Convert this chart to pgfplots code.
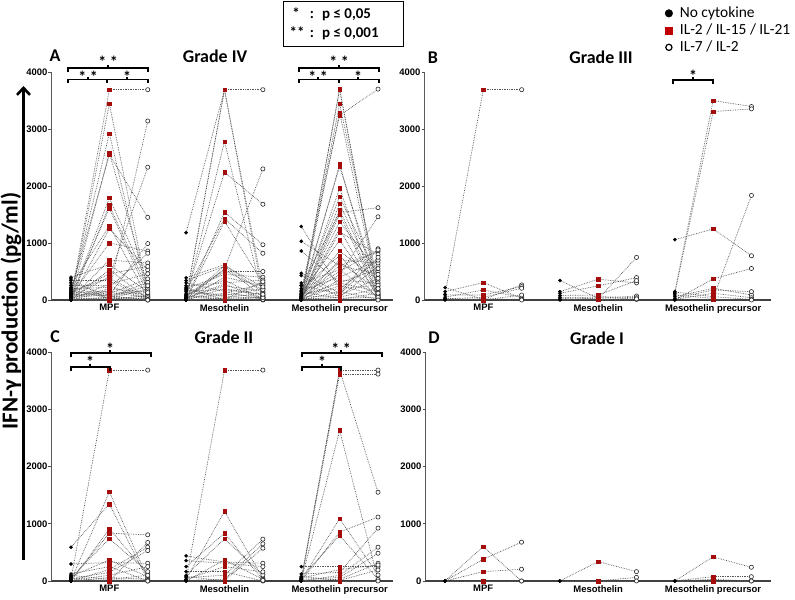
\documentclass[border=0pt]{standalone}
\usepackage{fontspec}
\setmainfont{Carlito}
\newfontfamily\arialf{Liberation Sans}
\usepackage{pgfplots}
\pgfplotsset{compat=1.18}
\usepackage{pgfplotstable}
\usetikzlibrary{arrows.meta}

\definecolor{sqred}{RGB}{165,12,12}
\definecolor{legred}{RGB}{192,0,0}
\definecolor{conn}{RGB}{85,85,85}

% one row per patient: g = antigen (0 MPF, 1 Mesothelin, 2 precursor)
\pgfplotstableread{
g nc il il7
0 50 3690 3690
0 20 3440 120
0 100 2920 60
0 10 2580 250
0 150 2550 1450
0 30 1790 300
0 0 1660 190
0 60 1610 100
0 250 1300 40
0 10 1250 530
0 80 1000 860
0 20 700 650
0 400 620 140
0 5 530 30
0 120 460 590
0 40 410 2330
0 340 340 10
0 15 280 460
0 200 220 820
0 0 170 3140
0 70 110 370
0 300 80 990
0 10 50 310
0 180 30 20
0 25 20 200
0 370 10 80
0 0 0 0
0 90 130 50
0 220 60 15
0 5 40 250
0 130 150 100
0 260 250 5
0 45 90 160
0 0 15 70
0 160 380 40
0 10 5 10
0 30 200 130
0 110 70 0
1 1180 3690 3690
1 20 3690 80
1 50 3690 200
1 30 2780 40
1 80 2240 1680
1 10 1540 970
1 150 1430 820
1 0 1380 300
1 390 620 130
1 340 590 50
1 20 550 2300
1 60 500 500
1 200 450 400
1 5 400 250
1 100 350 20
1 250 300 350
1 30 250 150
1 0 200 90
1 300 150 10
1 15 120 280
1 120 100 60
1 45 80 200
1 180 60 30
1 0 40 120
1 70 20 0
1 10 10 320
1 220 0 50
1 35 280 10
1 90 520 180
1 0 30 40
1 160 180 100
1 25 600 230
2 30 3700 80
2 10 3700 150
2 60 3440 300
2 20 3290 100
2 150 3240 3700
2 5 2380 50
2 80 2340 200
2 40 1960 10
2 100 1810 400
2 0 1690 250
2 20 1580 120
2 250 1535 1620
2 10 1505 60
2 1290 200 700
2 50 1370 500
2 1030 600 850
2 860 300 150
2 30 1250 30
2 470 120 900
2 430 50 600
2 5 1190 800
2 120 1050 90
2 60 860 350
2 200 780 20
2 0 706 650
2 90 665 180
2 15 605 450
2 300 530 40
2 40 450 1460
2 170 400 700
2 0 350 300
2 70 300 550
2 20 250 80
2 110 200 260
2 0 150 10
2 260 100 750
2 50 80 380
2 10 50 200
2 140 30 50
2 30 10 120
2 90 500 880
2 0 0 0
}\gradeIV

\pgfplotstableread{
g nc il il7
0 100 3690 3690
0 218 10 265
0 147 306 30
0 50 176 47
0 90 88 235
0 20 47 206
0 10 0 88
0 0 20 12
0 30 5 0
1 341 30 70
1 147 365 300
1 118 247 394
1 50 20 747
1 80 88 341
1 20 60 40
1 10 10 10
1 0 40 20
2 147 3500 3394
2 118 3306 3353
2 1059 1247 776
2 0 371 553
2 88 30 1835
2 60 206 88
2 30 176 147
2 10 118 40
2 140 59 10
2 0 10 0
}\gradeIII

\pgfplotstableread{
g nc il il7
0 30 3684 3684
0 10 1556 50
0 591 1345 20
0 0 912 123
0 20 836 807
0 60 737 164
0 298 322 310
0 80 368 76
0 123 251 0
0 0 200 591
0 40 150 532
0 10 100 251
0 0 60 30
0 50 0 673
0 5 20 10
0 100 30 100
0 0 5 0
1 20 3684 3684
1 439 330 310
1 357 310 251
1 30 1216 50
1 251 836 20
1 100 737 105
1 0 368 30
1 164 164 0
1 60 100 731
1 10 30 649
1 0 10 573
1 30 251 160
1 80 0 10
2 30 3684 3684
2 0 3614 3614
2 10 2632 20
2 40 3684 1550
2 20 1088 105
2 0 854 1117
2 60 795 30
2 251 251 251
2 123 150 924
2 0 100 591
2 30 60 485
2 10 30 310
2 80 10 193
2 0 0 0
2 50 200 280
}\gradeII

\pgfplotstableread{
g nc il il7
0 0 602 0
0 0 380 678
0 0 164 205
0 0 0 0
1 0 339 164
1 0 0 64
1 0 0 0
2 0 421 240
2 0 76 76
2 0 29 0
2 0 0 0
}\gradeI

\pgfplotsset{
  panel/.style={
    scale only axis, ymin=0, ymax=4000,
    axis lines*=left, clip=false,
    ytick={0,1000,2000,3000,4000},
    yticklabels={0,1000,2000,3000,4000},
    xtick={2,5,8},
    xticklabels={MPF,Mesothelin,Mesothelin precursor},
    xtick style={draw=none},
    ytick style={black!70, line width=0.6bp},
    tick align=outside, major tick length=2.5bp,
    tick label style={font=\arialf\bfseries\fontsize{9.5}{10}\selectfont},
    yticklabel style={inner sep=0.8bp},
    xticklabel style={inner sep=1.5bp},
    x axis line style={black!75, line width=1.3bp},
    y axis line style={black!65, line width=0.7bp},
  },
  link/.style={conn, densely dotted, line width=0.7bp, mark=none, -},
}

\newcommand\patients[1]{%
  \addplot[link, quiver={u=1, v=\thisrow{il}-\thisrow{nc}}]
    table[x expr=3*\thisrow{g}+1, y=nc]{#1};
  \addplot[link, quiver={u=1, v=\thisrow{il7}-\thisrow{il}}]
    table[x expr=3*\thisrow{g}+2, y=il]{#1};
  \addplot[only marks, mark=*, mark size=1.6bp, black]
    table[x expr=3*\thisrow{g}+1, y=nc]{#1};
  \addplot[only marks, mark=square*, mark size=1.7bp, sqred]
    table[x expr=3*\thisrow{g}+2, y=il]{#1};
  \addplot[only marks, mark=*, mark size=2.1bp,
    mark options={fill=white, draw=black!85, line width=0.6bp}]
    table[x expr=3*\thisrow{g}+3, y=il7]{#1};
}

\tikzset{
  brk/.style={line width=1.2bp, black},
  star/.style={font=\bfseries\fontsize{16}{16}\selectfont, anchor=base, inner sep=0pt},
  ttl/.style={font=\bfseries\fontsize{18}{20}\selectfont, inner sep=0pt},
}

\begin{document}
\begin{tikzpicture}
\useasboundingbox (0bp,0bp) rectangle (795bp,-600bp);

% A
\begin{axis}[panel, at={(51bp,-300bp)}, anchor=south west,
  width=342bp, height=228bp, xmin=0.48, xmax=9.39]
  \patients{\gradeIV}
\end{axis}

% B
\begin{axis}[panel, at={(424bp,-300bp)}, anchor=south west,
  width=346.6bp, height=228bp, xmin=0.45, xmax=9.5,
  legend style={draw=none, fill=none, at={(axis description cs:0.693,1.29)},
    anchor=north west, font=\fontsize{15.5}{17}\selectfont,
    inner sep=0pt, row sep=2.5bp,
    nodes={inner sep=0pt, text height=11bp, text depth=3.5bp}},
  legend cell align=left,
  legend image code/.code={%
    \path[draw=none, fill=none] (-0.5bp,0bp) -- (15bp,0bp);
    \draw[#1] plot coordinates {(4bp,0bp)};}]
  \addlegendimage{only marks, mark=*, mark size=3.8bp, black}
  \addlegendimage{only marks, mark=square*, mark size=3.6bp, legred}
  \addlegendimage{only marks, mark=*, mark size=3.1bp, mark options={fill=white, draw=black, line width=1.2bp}}
  \patients{\gradeIII}
  \legend{No cytokine, IL-2 / IL-15 / IL-21, IL-7 / IL-2}
\end{axis}

% C
\begin{axis}[panel, at={(51bp,-581bp)}, anchor=south west,
  width=342bp, height=229bp, xmin=0.48, xmax=9.39]
  \patients{\gradeII}
\end{axis}

% D
\begin{axis}[panel, at={(425bp,-581bp)}, anchor=south west,
  width=345.5bp, height=229bp, xmin=0.48, xmax=9.5]
  \patients{\gradeI}
\end{axis}

% titles
\node[ttl] at (55bp,-56bp) {A};
\node[ttl] at (215bp,-56bp) {Grade IV};
\node[ttl] at (433bp,-57.5bp) {B};
\node[ttl] at (601bp,-57.5bp) {Grade III};
\node[ttl] at (55bp,-337bp) {C};
\node[ttl] at (224bp,-337bp) {Grade II};
\node[ttl] at (434bp,-338bp) {D};
\node[ttl] at (597bp,-338bp) {Grade I};

% y label and arrow
\node[rotate=90, anchor=base, inner sep=0pt, font=\bfseries\fontsize{23}{25}\selectfont]
  at (17.5bp,-311bp) {IFN-γ production (pg/ml)};
\draw[line width=2.6bp, -{Straight Barb[length=7bp, width=13bp]}]
  (23.5bp,-560bp) -- (23.5bp,-86bp);

% p-value key
\draw[line width=1bp] (283bp,-1bp) rectangle (403bp,-46bp);
\begin{scope}[every node/.style={font=\bfseries\fontsize{15}{15}\selectfont, inner sep=0pt}]
  \node[anchor=base] at (296bp,-18.5bp) {*};
  \node[anchor=base] at (312bp,-18.5bp) {:};
  \node[anchor=base west] at (322bp,-18.5bp) {p ≤ 0,05};
  \node[anchor=base] at (297bp,-37bp) {**};
  \node[anchor=base] at (312bp,-37bp) {:};
  \node[anchor=base west] at (322bp,-37bp) {p ≤ 0,001};
\end{scope}

% significance brackets, A
\draw[brk] (68bp,-72bp) -- (68bp,-68bp) -- (148bp,-68bp) -- (148bp,-72bp);
\draw[brk] (108bp,-68bp) -- (108bp,-65bp);
\node[star] at (108bp,-67bp) {* *};
\draw[brk] (68bp,-83bp) -- (68bp,-79.5bp) -- (148bp,-79.5bp) -- (148bp,-83bp);
\draw[brk] (107bp,-79.5bp) -- (107bp,-83bp);
\draw[brk] (88bp,-79.5bp) -- (88bp,-76.5bp);
\draw[brk] (127bp,-79.5bp) -- (127bp,-76.5bp);
\node[star] at (88bp,-82bp) {* *};
\node[star] at (127bp,-82bp) {*};

\draw[brk] (299bp,-72bp) -- (299bp,-68bp) -- (379bp,-68bp) -- (379bp,-72bp);
\draw[brk] (339bp,-68bp) -- (339bp,-65bp);
\node[star] at (339bp,-67bp) {* *};
\draw[brk] (299bp,-83bp) -- (299bp,-79.5bp) -- (379bp,-79.5bp) -- (379bp,-83bp);
\draw[brk] (339bp,-79.5bp) -- (339bp,-83bp);
\draw[brk] (318bp,-79.5bp) -- (318bp,-76.5bp);
\draw[brk] (358bp,-79.5bp) -- (358bp,-76.5bp);
\node[star] at (318bp,-82bp) {* *};
\node[star] at (358bp,-82bp) {*};

% B
\draw[brk] (673bp,-84bp) -- (673bp,-80bp) -- (713bp,-80bp) -- (713bp,-84bp);
\draw[brk] (693bp,-80bp) -- (693bp,-77bp);
\node[star] at (693bp,-81.5bp) {*};

% C
\draw[brk] (71bp,-357bp) -- (71bp,-353bp) -- (151bp,-353bp) -- (151bp,-357bp);
\draw[brk] (110bp,-353bp) -- (110bp,-350bp);
\node[star] at (110bp,-354bp) {*};
\draw[brk] (71bp,-371bp) -- (71bp,-367bp) -- (110bp,-367bp) -- (110bp,-371bp);
\draw[brk] (90bp,-367bp) -- (90bp,-364bp);
\node[star] at (90bp,-367bp) {*};

\draw[brk] (302bp,-357bp) -- (302bp,-353bp) -- (382bp,-353bp) -- (382bp,-357bp);
\draw[brk] (341bp,-353bp) -- (341bp,-350bp);
\node[star] at (341bp,-354bp) {* *};
\draw[brk] (302bp,-371bp) -- (302bp,-367bp) -- (341bp,-367bp) -- (341bp,-371bp);
\draw[brk] (322bp,-367bp) -- (322bp,-364bp);
\node[star] at (322bp,-367bp) {*};
\end{tikzpicture}
\end{document}
